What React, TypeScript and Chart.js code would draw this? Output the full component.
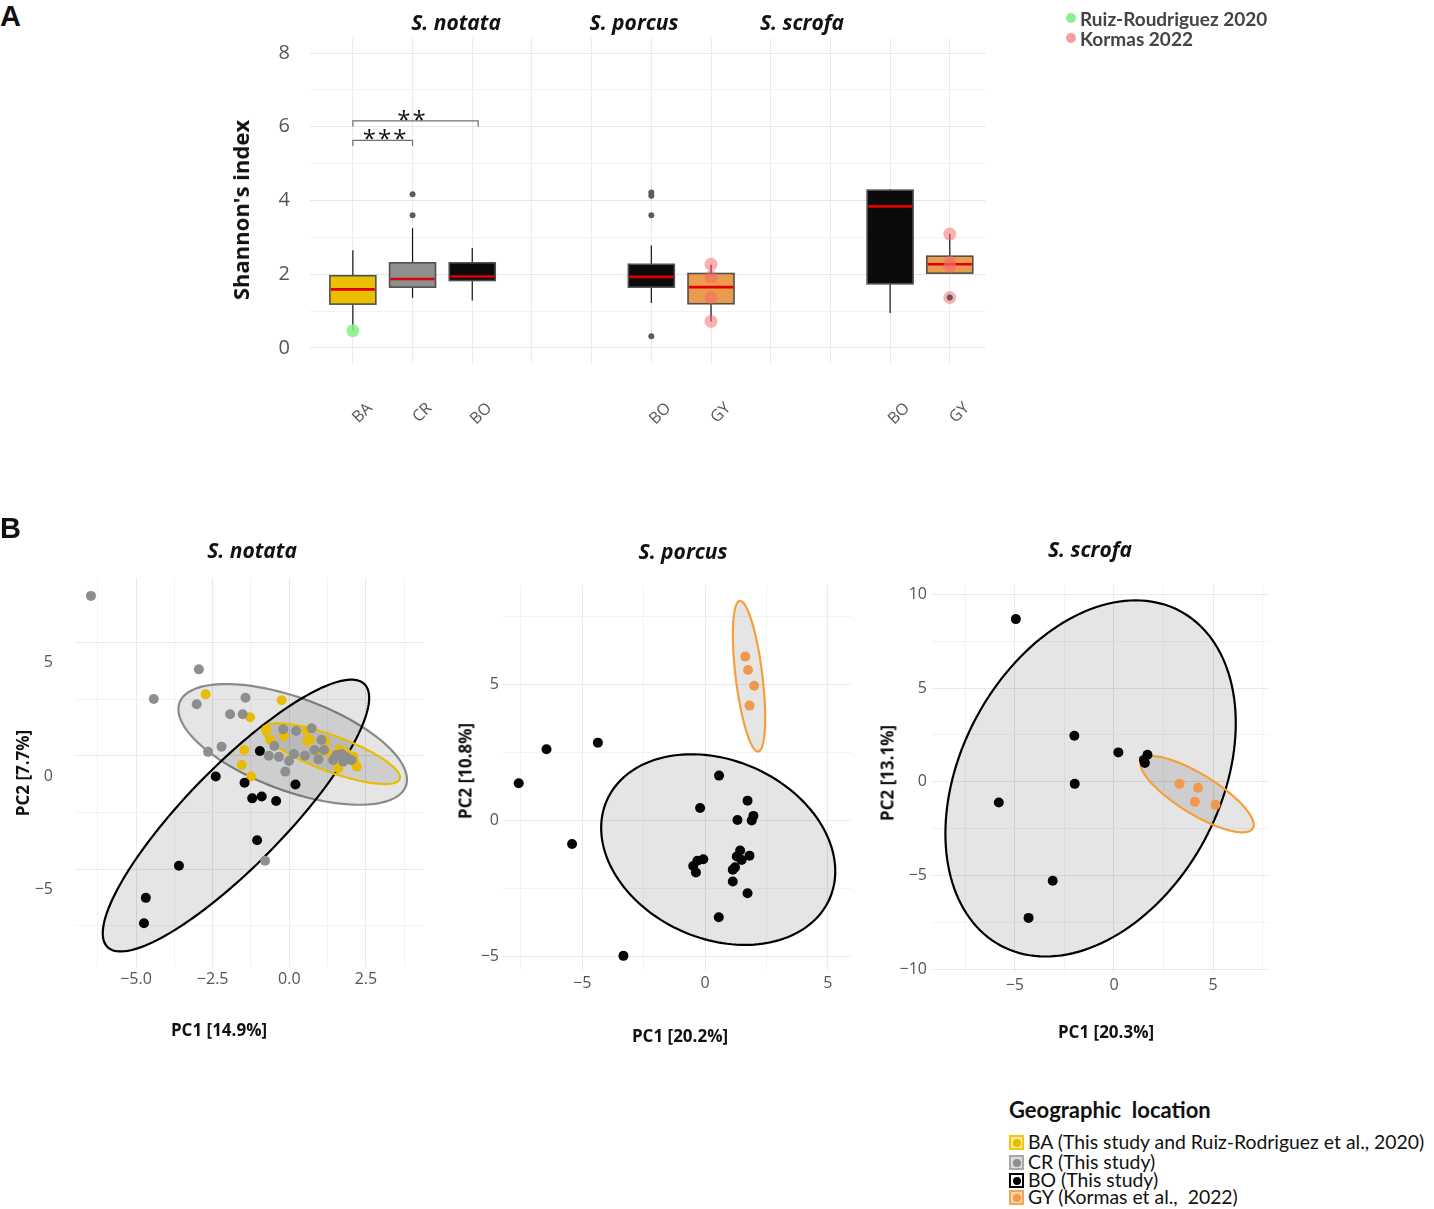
import React, { useEffect, useRef } from 'react';
import { Chart, registerables } from 'chart.js';

Chart.register(...registerables);

// ---------------- Panel A data (Shannon's index) ----------------
const boxCategories = ['BA', 'CR', 'BO', '', '', 'BO', 'GY', '', '', 'BO', 'GY'];
const categoryPositions = [1, 2, 3, 4, 5, 6, 7, 8, 9, 10, 11];
const boxPositions = [1, 2, 3, 6, 7, 10, 11];
const boxGroups = ['BA', 'CR', 'BO', 'BO', 'GY', 'BO', 'GY'];
const boxQ1 = [1.19, 1.65, 1.83, 1.65, 1.2, 1.74, 2.03];
const boxMedian = [1.59, 1.87, 1.94, 1.93, 1.65, 3.84, 2.27];
const boxQ3 = [1.96, 2.31, 2.31, 2.27, 2.02, 4.28, 2.49];
const whiskerLow = [0.47, 1.36, 1.29, 1.22, 0.72, 0.95, 2.03];
const whiskerHigh = [2.65, 3.25, 2.71, 2.78, 2.26, 4.31, 3.09];
const outlierPositions = [2, 2, 6, 6, 6, 6, 11];
const outlierValues = [4.17, 3.6, 4.22, 4.13, 3.6, 0.32, 1.37];
const ruizPositions = [1];
const ruizValues = [0.47];
const kormasPositions = [7, 7, 7, 7, 11, 11, 11, 11];
const kormasValues = [2.27, 1.93, 1.37, 0.72, 3.09, 2.33, 2.22, 1.37];
const shannonTicks = [0, 1, 2, 3, 4, 5, 6, 7, 8];
const shannonLabels = ['0', '', '2', '', '4', '', '6', '', '8'];
const sigStart = [1, 1];
const sigEnd = [2, 3.1];
const sigLevel = [5.63, 6.16];
const sigLabels = ['***', '**'];
const speciesTitles = ['S. notata', 'S. porcus', 'S. scrofa'];

// ---------------- Panel B data (PCA) ----------------
// S. notata
const notataCRx = [-6.47, -2.95, -4.42, -3.02, -1.43, -1.93, -1.52, -2.65, -2.21, 0.73, -0.2, 0.22, -0.49, -0.67, -0.34, -0.01, -0.13, 0.15, 0.51, 0.82, 0.95, 1.05, 1.13, 1.43, 1.54, 1.71, 1.87, 1.76, 2.03, -0.79];
const notataCRy = [7.06, 3.82, 2.51, 2.28, 2.57, 1.84, 1.84, 0.18, 0.41, 1.22, 1.18, 1.1, 0.44, 0.01, -0.04, -0.22, -0.69, 0.09, 0.01, 0.26, -0.15, 0.71, 0.26, -0.18, 0.04, 0.09, -0.06, -0.25, -0.18, -4.62];
const notataBAx = [-2.73, -0.25, -1.28, -0.75, -0.18, -1.47, -1.55, -1.25, -0.62, 0.59, 0.67, 0.57, 1.17, 1.63, 1.87, 1.98, 2.12, 2.2, 1.6, 1.22, 0.89, 2.09];
const notataBAy = [2.72, 2.46, 1.71, 1.15, 0.88, 0.26, -0.4, -0.91, 0.71, 0.66, 0.71, 1.12, 0.66, 0.29, 0.12, -0.18, -0.25, -0.47, -0.54, 0.19, 0.19, -0.03];
const notataBOx = [-0.96, -2.4, -1.46, -1.21, -0.9, -0.43, 0.2, -1.05, -3.6, -4.68, -4.74];
const notataBOy = [0.22, -0.91, -1.18, -1.87, -1.79, -1.99, -1.26, -3.72, -4.84, -6.26, -7.38];
// ellipses: [cx, cy, ax, ay, bx, by]
const notataEllipseCR = [0.11, 0.51, 3.69, -1.84, -0.523, -1.925];
const notataEllipseBO = [-1.74, -2.63, 4.19, 5.8, 1.149, -1.519];
const notataEllipseBA = [1.37, 0.1, 2.23, -1.116, -0.202, -0.741];

// S. porcus
const porcusBOx = [-4.36, -6.45, -7.58, -5.41, -3.32, 0.57, 1.73, -0.2, 1.32, 1.97, 1.9, 1.43, 1.29, 1.49, 1.81, 1.22, 1.13, 1.13, 1.73, 0.56, -0.07, -0.31, -0.48, -0.37];
const porcusBOy = [2.85, 2.61, 1.36, -0.87, -4.98, 1.64, 0.72, 0.45, 0.01, 0.16, -0.01, -1.11, -1.33, -1.46, -1.3, -1.73, -1.82, -2.25, -2.68, -3.56, -1.43, -1.49, -1.68, -1.92];
const porcusGYx = [1.64, 1.75, 2.0, 1.81];
const porcusGYy = [6.01, 5.52, 4.94, 4.21];
const porcusEllipseBO = [0.537, -1.077, 4.527, -1.815, -1.479, -2.993];
const porcusEllipseGY = [1.79, 5.29, 0.374, -2.766, -0.54, -0.059];

// S. scrofa
const scrofaBOx = [-4.95, -2.0, 0.22, 1.69, 1.51, 1.56, -1.98, -5.81, -3.09, -4.31];
const scrofaBOy = [8.68, 2.46, 1.57, 1.44, 1.17, 1.0, -0.11, -1.1, -5.28, -7.26];
const scrofaGYx = [3.31, 4.24, 4.08, 5.12];
const scrofaGYy = [-0.11, -0.32, -1.07, -1.23];
const scrofaEllipseBO = [-1.18, 0.18, 4.544, 8.911, 5.744, -3.294];
const scrofaEllipseGY = [4.19, -0.66, 2.81, -1.825, -0.521, -0.903];

// axis ticks
const notataXTicks = [-6.25, -5, -3.75, -2.5, -1.25, 0, 1.25, 2.5, 3.75];
const notataXLabels = ['', '\u22125.0', '', '\u22122.5', '', '0.0', '', '2.5', ''];
const notataYTicks = [-7.5, -5, -2.5, 0, 2.5, 5];
const notataYLabels = ['', '\u22125', '', '0', '', '5'];
const porcusXTicks = [-7.5, -5, -2.5, 0, 2.5, 5];
const porcusXLabels = ['', '\u22125', '', '0', '', '5'];
const porcusYTicks = [-5, -2.5, 0, 2.5, 5, 7.5];
const porcusYLabels = ['\u22125', '', '0', '', '5', ''];
const scrofaXTicks = [-7.5, -5, -2.5, 0, 2.5, 5, 7.5];
const scrofaXLabels = ['', '\u22125', '', '0', '', '5', ''];
const scrofaYTicks = [-10, -7.5, -5, -2.5, 0, 2.5, 5, 7.5, 10];
const scrofaYLabels = ['\u221210', '', '\u22125', '', '0', '', '5', '', '10'];

const groupColors: Record<string, string> = {
  BA: '#E8BC00',
  CR: '#8E8E8E',
  BO: '#060606',
  GY: '#EE9A4C',
};
const boxFill: Record<string, string> = {
  BA: '#E9BF00',
  CR: '#8F8F8F',
  BO: '#0B0B0B',
  GY: '#EB9B4E',
};
const ellipseStroke: Record<string, string> = {
  BA: '#E8BC00',
  CR: '#8A8A8A',
  BO: '#000000',
  GY: '#F5A03C',
};

const SANS = "'Open Sans', 'DejaVu Sans', sans-serif";
const LATO = "Lato, 'Open Sans', sans-serif";
const BOX_WIDTH = 0.77;

function toPoints(xs: number[], ys: number[]) {
  return xs.map((v, i) => ({ x: v, y: ys[i] }));
}

function makeBoxPlugin() {
  return {
    id: 'boxes',
    beforeDatasetsDraw(chart: any) {
      const { ctx } = chart;
      const xs = chart.scales.x;
      const ys = chart.scales.y;
      ctx.save();
      boxPositions.forEach((p, i) => {
        const x = xs.getPixelForValue(p);
        const left = xs.getPixelForValue(p - BOX_WIDTH / 2);
        const right = xs.getPixelForValue(p + BOX_WIDTH / 2);
        ctx.strokeStyle = '#111';
        ctx.lineWidth = 1.2;
        ctx.beginPath();
        ctx.moveTo(x, ys.getPixelForValue(whiskerHigh[i]));
        ctx.lineTo(x, ys.getPixelForValue(whiskerLow[i]));
        ctx.stroke();
        const top = ys.getPixelForValue(boxQ3[i]);
        const bot = ys.getPixelForValue(boxQ1[i]);
        ctx.fillStyle = boxFill[boxGroups[i]];
        ctx.fillRect(left, top, right - left, bot - top);
        ctx.strokeStyle = '#505050';
        ctx.lineWidth = 1.6;
        ctx.strokeRect(left, top, right - left, bot - top);
        const my = ys.getPixelForValue(boxMedian[i]);
        ctx.strokeStyle = '#E00000';
        ctx.lineWidth = 2.6;
        ctx.beginPath();
        ctx.moveTo(left + 1, my);
        ctx.lineTo(right - 1, my);
        ctx.stroke();
      });
      ctx.restore();
    },
    afterDatasetsDraw(chart: any) {
      const { ctx } = chart;
      const xs = chart.scales.x;
      const ys = chart.scales.y;
      ctx.save();
      sigStart.forEach((s, i) => {
        const x1 = xs.getPixelForValue(s);
        const x2 = xs.getPixelForValue(sigEnd[i]);
        const y = ys.getPixelForValue(sigLevel[i]);
        const yTick = ys.getPixelForValue(sigLevel[i] - 0.15);
        ctx.strokeStyle = '#707070';
        ctx.lineWidth = 1.2;
        ctx.beginPath();
        ctx.moveTo(x1, yTick);
        ctx.lineTo(x1, y);
        ctx.lineTo(x2, y);
        ctx.lineTo(x2, yTick);
        ctx.stroke();
        ctx.fillStyle = '#111';
        ctx.font = `24px ${SANS}`;
        try {
          (ctx as any).letterSpacing = '2px';
        } catch (e) {
          /* ignore */
        }
        ctx.textAlign = 'center';
        ctx.textBaseline = 'alphabetic';
        const cx = i === 0 ? xs.getPixelForValue(1.55) : xs.getPixelForValue(2.0);
        ctx.fillText(sigLabels[i], cx, y + 7);
      });
      ctx.restore();
    },
  };
}

function makeEllipsePlugin(ellipses: { e: number[]; color: string }[]) {
  return {
    id: 'ellipses',
    beforeDatasetsDraw(chart: any) {
      const { ctx } = chart;
      const xs = chart.scales.x;
      const ys = chart.scales.y;
      ctx.save();
      ellipses.forEach(({ e, color }) => {
        const [cx, cy, ax, ay, bx, by] = e;
        ctx.beginPath();
        const n = 160;
        for (let k = 0; k <= n; k++) {
          const t = (k / n) * Math.PI * 2;
          const vx = cx + ax * Math.cos(t) + bx * Math.sin(t);
          const vy = cy + ay * Math.cos(t) + by * Math.sin(t);
          const px = xs.getPixelForValue(vx);
          const py = ys.getPixelForValue(vy);
          if (k === 0) ctx.moveTo(px, py);
          else ctx.lineTo(px, py);
        }
        ctx.closePath();
        ctx.fillStyle = 'rgba(0,0,0,0.10)';
        ctx.fill();
        ctx.strokeStyle = color;
        ctx.lineWidth = 2.2;
        ctx.stroke();
      });
      ctx.restore();
    },
  };
}

type PcaSpec = {
  padding: { left: number; right: number; top: number; bottom: number };
  yw: number;
  xh: number;
  xMin: number;
  xMax: number;
  yMin: number;
  yMax: number;
  xTicks: number[];
  xLabels: string[];
  yTicks: number[];
  yLabels: string[];
  yLabelOffset: number;
  yPad: number;
  xPad: number;
  groups: { x: number[]; y: number[]; color: string }[];
  ellipses: { e: number[]; color: string }[];
};

function pcaConfig(spec: PcaSpec): any {
  const gridColor = (labels: string[]) => (ctx: any) =>
    labels[ctx.index] ? '#e9e9e9' : '#f3f3f3';
  return {
    type: 'scatter',
    data: {
      datasets: spec.groups.map((g) => ({
        data: toPoints(g.x, g.y),
        backgroundColor: g.color,
        borderColor: g.color,
        borderWidth: 0,
        pointRadius: 5,
        pointHoverRadius: 5,
      })),
    },
    options: {
      animation: false,
      responsive: false,
      events: [],
      layout: { padding: spec.padding },
      plugins: {
        legend: { display: false },
        tooltip: { enabled: false },
        title: { display: false },
      },
      scales: {
        x: {
          type: 'linear',
          min: spec.xMin,
          max: spec.xMax,
          afterBuildTicks: (s: any) => {
            s.ticks = spec.xTicks.map((v) => ({ value: v }));
          },
          afterFit: (s: any) => {
            s.height = spec.xh;
          },
          border: { display: false },
          grid: { color: gridColor(spec.xLabels), drawTicks: false, lineWidth: 1 },
          ticks: {
            autoSkip: false,
            maxRotation: 0,
            minRotation: 0,
            padding: spec.xPad,
            color: '#555',
            font: { family: SANS, size: 16 },
            callback: (_v: any, i: number) => spec.xLabels[i],
          },
        },
        y: {
          type: 'linear',
          min: spec.yMin,
          max: spec.yMax,
          afterBuildTicks: (s: any) => {
            s.ticks = spec.yTicks.map((v) => ({ value: v }));
          },
          afterFit: (s: any) => {
            s.width = spec.yw;
          },
          border: { display: false },
          grid: { color: gridColor(spec.yLabels), drawTicks: false, lineWidth: 1 },
          ticks: {
            autoSkip: false,
            padding: spec.yPad,
            labelOffset: spec.yLabelOffset,
            color: '#555',
            font: { family: SANS, size: 16 },
            callback: (_v: any, i: number) => spec.yLabels[i],
          },
        },
      },
    },
    plugins: [makeEllipsePlugin(spec.ellipses)],
  };
}

const notataSpec: PcaSpec = {
  padding: { left: 12, right: 17, top: 50, bottom: 9 },
  yw: 63,
  xh: 72,
  xMin: -6.99,
  xMax: 4.36,
  yMin: -9.31,
  yMax: 7.85,
  xTicks: notataXTicks,
  xLabels: notataXLabels,
  yTicks: notataYTicks,
  yLabels: notataYLabels,
  yLabelOffset: 20,
  yPad: 22,
  xPad: 3,
  groups: [
    { x: notataCRx, y: notataCRy, color: groupColors.CR },
    { x: notataBOx, y: notataBOy, color: groupColors.BO },
    { x: notataBAx, y: notataBAy, color: groupColors.BA },
  ],
  ellipses: [
    { e: notataEllipseCR, color: ellipseStroke.CR },
    { e: notataEllipseBO, color: ellipseStroke.BO },
    { e: notataEllipseBA, color: ellipseStroke.BA },
  ],
};

const porcusSpec: PcaSpec = {
  padding: { left: 25, right: 19, top: 57, bottom: 3 },
  yw: 48,
  xh: 75,
  xMin: -8.22,
  xMax: 5.94,
  yMin: -5.5,
  yMax: 8.64,
  xTicks: porcusXTicks,
  xLabels: porcusXLabels,
  yTicks: porcusYTicks,
  yLabels: porcusYLabels,
  yLabelOffset: 0,
  yPad: 4,
  xPad: 4,
  groups: [
    { x: porcusBOx, y: porcusBOy, color: groupColors.BO },
    { x: porcusGYx, y: porcusGYy, color: groupColors.GY },
  ],
  ellipses: [
    { e: porcusEllipseBO, color: ellipseStroke.BO },
    { e: porcusEllipseGY, color: ellipseStroke.GY },
  ],
};

const scrofaSpec: PcaSpec = {
  padding: { left: 17, right: 31, top: 57, bottom: 7 },
  yw: 55,
  xh: 68,
  xMin: -9.18,
  xMax: 7.82,
  yMin: -10.2,
  yMax: 10.5,
  xTicks: scrofaXTicks,
  xLabels: scrofaXLabels,
  yTicks: scrofaYTicks,
  yLabels: scrofaYLabels,
  yLabelOffset: 0,
  yPad: 5,
  xPad: 3,
  groups: [
    { x: scrofaBOx, y: scrofaBOy, color: groupColors.BO },
    { x: scrofaGYx, y: scrofaGYy, color: groupColors.GY },
  ],
  ellipses: [
    { e: scrofaEllipseBO, color: ellipseStroke.BO },
    { e: scrofaEllipseGY, color: ellipseStroke.GY },
  ],
};

function shannonConfig(): any {
  return {
    type: 'scatter',
    data: {
      datasets: [
        {
          data: toPoints(outlierPositions, outlierValues),
          backgroundColor: '#5c5c5c',
          borderWidth: 0,
          pointRadius: 3,
        },
        {
          data: toPoints(ruizPositions, ruizValues),
          backgroundColor: 'rgba(130,240,130,0.85)',
          borderWidth: 0,
          pointRadius: 6.5,
        },
        {
          data: toPoints(kormasPositions, kormasValues),
          backgroundColor: 'rgba(248,100,100,0.5)',
          borderWidth: 0,
          pointRadius: 6.5,
        },
      ],
    },
    options: {
      animation: false,
      responsive: false,
      events: [],
      layout: { padding: { left: 7, right: 12, top: 38, bottom: 7 } },
      plugins: {
        legend: { display: false },
        tooltip: { enabled: false },
        title: { display: false },
      },
      scales: {
        x: {
          type: 'linear',
          min: 0.282,
          max: 11.6,
          afterBuildTicks: (s: any) => {
            s.ticks = categoryPositions.map((v) => ({ value: v }));
          },
          afterFit: (s: any) => {
            s.height = 80;
          },
          border: { display: false },
          grid: { color: '#ebebeb', drawTicks: false, lineWidth: 1 },
          ticks: {
            autoSkip: false,
            minRotation: 45,
            maxRotation: 45,
            padding: 36,
            labelOffset: 17,
            color: '#555',
            font: { family: SANS, size: 16 },
            callback: (_v: any, i: number) => boxCategories[i],
          },
        },
        y: {
          type: 'linear',
          min: -0.407,
          max: 8.407,
          afterBuildTicks: (s: any) => {
            s.ticks = shannonTicks.map((v) => ({ value: v }));
          },
          afterFit: (s: any) => {
            s.width = 83;
          },
          border: { display: false },
          grid: {
            color: (ctx: any) => (shannonLabels[ctx.index] ? '#e6e6e6' : '#f1f1f1'),
            drawTicks: false,
            lineWidth: 1,
          },
          ticks: {
            autoSkip: false,
            padding: 20,
            color: '#555',
            font: { family: SANS, size: 20 },
            callback: (_v: any, i: number) => shannonLabels[i],
          },
        },
      },
    },
    plugins: [makeBoxPlugin()],
  };
}

function useChart(ref: React.RefObject<HTMLCanvasElement | null>, build: () => any) {
  useEffect(() => {
    if (!ref.current) return;
    const chart = new Chart(ref.current, build());
    return () => chart.destroy();
  }, []);
}

function Txt(props: {
  x: number;
  y: number;
  children: React.ReactNode;
  size: number;
  bold?: boolean;
  italic?: boolean;
  family?: string;
  color?: string;
  anchor?: 'center' | 'left';
  vertical?: boolean;
}) {
  const { x, y, size, bold, italic, family, color, anchor, vertical } = props;
  let transform = anchor === 'left' ? 'translate(0,-50%)' : 'translate(-50%,-50%)';
  if (vertical) transform = 'translate(-50%,-50%) rotate(-90deg)';
  return (
    <div
      style={{
        position: 'absolute',
        left: x,
        top: y,
        transform,
        fontSize: size,
        fontWeight: bold ? 700 : 400,
        fontStyle: italic ? 'italic' : 'normal',
        fontFamily: family || SANS,
        color: color || '#111',
        whiteSpace: 'pre',
        lineHeight: 1,
      }}
    >
      {props.children}
    </div>
  );
}

const legendItems = [
  { key: 'BA', text: 'BA (This study and Ruiz-Rodriguez et al., 2020)', border: '#F2C811', bg: '#FBE7A0', dot: '#E8BC00' },
  { key: 'CR', text: 'CR (This study)', border: '#A8A8A8', bg: '#DCDCDC', dot: '#8E8E8E' },
  { key: 'BO', text: 'BO (This study)', border: '#000', bg: '#fff', dot: '#000' },
  { key: 'GY', text: 'GY (Kormas et al.,  2022)', border: '#F2A65A', bg: '#F9D3AE', dot: '#EE9A4C' },
];
const legendRows = [1142, 1162, 1180, 1197];

export default function App() {
  const refA = useRef<HTMLCanvasElement>(null);
  const refB1 = useRef<HTMLCanvasElement>(null);
  const refB2 = useRef<HTMLCanvasElement>(null);
  const refB3 = useRef<HTMLCanvasElement>(null);

  useChart(refA, shannonConfig);
  useChart(refB1, () => pcaConfig(notataSpec));
  useChart(refB2, () => pcaConfig(porcusSpec));
  useChart(refB3, () => pcaConfig(scrofaSpec));

  return (
    <div
      style={{
        position: 'absolute',
        left: 0,
        top: 0,
        width: 1434,
        height: 1209,
        background: '#fff',
        overflow: 'hidden',
      }}
    >
      <canvas ref={refA} width={780} height={450} style={{ position: 'absolute', left: 220, top: 0 }} />
      <canvas ref={refB1} width={440} height={520} style={{ position: 'absolute', left: 0, top: 528 }} />
      <canvas ref={refB2} width={440} height={520} style={{ position: 'absolute', left: 430, top: 528 }} />
      <canvas ref={refB3} width={440} height={520} style={{ position: 'absolute', left: 860, top: 528 }} />

      <Txt x={0} y={16} size={29} bold family="'Liberation Sans', Arial, sans-serif" anchor="left">A</Txt>
      <Txt x={0} y={528} size={29} bold family="'Liberation Sans', Arial, sans-serif" anchor="left">B</Txt>

      <Txt x={240} y={210} size={22} bold vertical>Shannon's index</Txt>

      <Txt x={456} y={22} size={21} bold italic>{speciesTitles[0]}</Txt>
      <Txt x={634} y={22} size={21} bold italic>{speciesTitles[1]}</Txt>
      <Txt x={802} y={22} size={21} bold italic>{speciesTitles[2]}</Txt>

      <Txt x={252} y={550} size={21} bold italic>{speciesTitles[0]}</Txt>
      <Txt x={683} y={551} size={21} bold italic>{speciesTitles[1]}</Txt>
      <Txt x={1090} y={549} size={21} bold italic>{speciesTitles[2]}</Txt>

      <Txt x={22} y={773} size={17} bold vertical>PC2 [7.7%]</Txt>
      <Txt x={465} y={771} size={17} bold vertical>PC2 [10.8%]</Txt>
      <Txt x={887} y={773} size={17} bold vertical>PC2 [13.1%]</Txt>
      <Txt x={219} y={1029} size={17} bold>PC1 [14.9%]</Txt>
      <Txt x={680} y={1035} size={17} bold>PC1 [20.2%]</Txt>
      <Txt x={1106} y={1031} size={17} bold>PC1 [20.3%]</Txt>

      <div style={{ position: 'absolute', left: 1066, top: 13, width: 10, height: 10, borderRadius: 5, background: '#90EE90' }} />
      <div style={{ position: 'absolute', left: 1066, top: 33, width: 10, height: 10, borderRadius: 5, background: '#F4A0A0' }} />
      <Txt x={1080} y={18} size={19} bold family={LATO} color="#444" anchor="left">Ruiz-Roudriguez 2020</Txt>
      <Txt x={1080} y={38} size={19} bold family={LATO} color="#444" anchor="left">Kormas 2022</Txt>

      <Txt x={1009} y={1110} size={22} bold family={LATO} anchor="left">{'Geographic  location'}</Txt>
      {legendItems.map((it, i) => (
        <React.Fragment key={it.key}>
          <div
            style={{
              position: 'absolute',
              left: 1009,
              top: legendRows[i] - 7,
              width: 15,
              height: 15,
              boxSizing: 'border-box',
              border: `2px solid ${it.border}`,
              background: it.bg,
            }}
          >
            <div
              style={{
                position: 'absolute',
                left: 1.5,
                top: 1.5,
                width: 8,
                height: 8,
                borderRadius: 4,
                background: it.dot,
              }}
            />
          </div>
          <Txt x={1028} y={legendRows[i]} size={19.4} family={LATO} anchor="left">{it.text}</Txt>
        </React.Fragment>
      ))}
    </div>
  );
}
